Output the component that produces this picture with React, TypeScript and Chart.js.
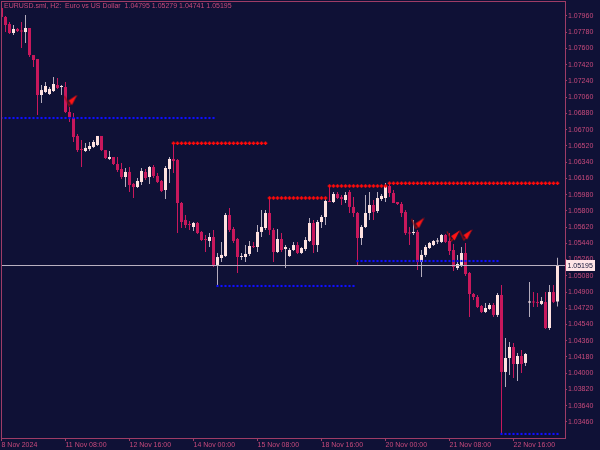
import React, { useEffect, useRef } from "react";
import { Chart, registerables } from "chart.js";

Chart.register(...registerables);

// ---- data (EURUSD H2) ----
const opens = [
  1.08048, 1.07949, 1.07871, 1.07771, 1.07816, 1.07793, 1.07782, 1.07827, 1.07527, 1.07483,
  1.07084, 1.07117, 1.07095, 1.07128, 1.07195, 1.07173, 1.07173, 1.06896, 1.06829, 1.0663,
  1.0648, 1.06463, 1.06485, 1.06508, 1.0653, 1.0663, 1.06474, 1.06375, 1.06397, 1.06319,
  1.06264, 1.06175, 1.06231, 1.06098, 1.06064, 1.0612, 1.06231, 1.06175, 1.06286, 1.06186,
  1.06131, 1.06031, 1.06264, 1.06375, 1.06364, 1.05887, 1.05699, 1.0565, 1.05621, 1.05665,
  1.05566, 1.05482, 1.05466, 1.0551, 1.052, 1.05277, 1.05299, 1.05754, 1.05599, 1.05488,
  1.05288, 1.05288, 1.05322, 1.0541, 1.05399, 1.05566, 1.0561, 1.05776, 1.05588, 1.05344,
  1.05488, 1.05377, 1.05299, 1.05366, 1.05421, 1.05333, 1.05377, 1.05466, 1.05665, 1.05421,
  1.05676, 1.05732, 1.05909, 1.05898, 1.05987, 1.05953, 1.0592, 1.06009, 1.05843, 1.05776,
  1.05499, 1.05621, 1.05776, 1.05865, 1.05798, 1.05931, 1.05942, 1.06075, 1.05998, 1.05898,
  1.05876, 1.05787, 1.05554, 1.05554, 1.05566, 1.05233, 1.05311, 1.05388, 1.05421, 1.0546,
  1.05455, 1.05532, 1.05466, 1.05366, 1.05166, 1.052, 1.05333, 1.05111, 1.04878, 1.04845,
  1.04745, 1.04679, 1.04712, 1.04756, 1.04646, 1.04867, 1.04014, 1.04169, 1.04291, 1.04102,
  1.04191, 1.04114, 1.04784, 1.0479, 1.04784, 1.04768, 1.0479, 1.04501, 1.049, 1.04795,
];
const highs = [
  1.0807, 1.0796, 1.07893, 1.0786, 1.07827, 1.07893, 1.07971, 1.07827, 1.07527, 1.07483,
  1.07195, 1.07228, 1.07173, 1.07284, 1.07272, 1.07195, 1.07228, 1.06951, 1.06885, 1.06652,
  1.06585, 1.06552, 1.06563, 1.06585, 1.0663, 1.0663, 1.06474, 1.06463, 1.06397, 1.06397,
  1.0633, 1.06275, 1.06286, 1.06109, 1.06164, 1.06275, 1.06264, 1.06297, 1.06308, 1.06219,
  1.06142, 1.06297, 1.06397, 1.06552, 1.06375, 1.05898, 1.05754, 1.05687, 1.05676, 1.05676,
  1.05577, 1.05532, 1.05554, 1.05588, 1.05333, 1.05455, 1.05776, 1.05832, 1.05621, 1.05499,
  1.05333, 1.05421, 1.05466, 1.05455, 1.05643, 1.05809, 1.05809, 1.05942, 1.0561, 1.05599,
  1.05554, 1.05421, 1.05388, 1.05455, 1.05455, 1.05399, 1.0551, 1.05721, 1.05699, 1.05699,
  1.05754, 1.05942, 1.06064, 1.06009, 1.06009, 1.05976, 1.06009, 1.06031, 1.05953, 1.05787,
  1.05643, 1.05976, 1.06009, 1.0592, 1.06009, 1.05987, 1.06109, 1.06109, 1.06031, 1.05898,
  1.05898, 1.05809, 1.05621, 1.05699, 1.05588, 1.05366, 1.05421, 1.05455, 1.05477, 1.05499,
  1.05543, 1.05543, 1.05554, 1.05433, 1.05311, 1.05399, 1.05444, 1.05122, 1.04889, 1.04867,
  1.04756, 1.04779, 1.04779, 1.04779, 1.04889, 1.04978, 1.04391, 1.04346, 1.04335, 1.04224,
  1.04258, 1.04224, 1.05011, 1.049, 1.04889, 1.04845, 1.049, 1.04978, 1.04978, 1.05279,
];
const lows = [
  1.07937, 1.07782, 1.0776, 1.07749, 1.07782, 1.07605, 1.0766, 1.07505, 1.07394, 1.06862,
  1.06995, 1.07106, 1.07084, 1.07117, 1.07151, 1.07084, 1.06885, 1.06785, 1.06563, 1.06452,
  1.06286, 1.06452, 1.06463, 1.06497, 1.06519, 1.06463, 1.06375, 1.06364, 1.06308, 1.06231,
  1.06153, 1.06064, 1.06009, 1.05942, 1.06053, 1.06086, 1.06142, 1.06098, 1.06164, 1.06109,
  1.06009, 1.05931, 1.06109, 1.06219, 1.05554, 1.0561, 1.0561, 1.05588, 1.05577, 1.05543,
  1.05466, 1.05344, 1.05399, 1.05178, 1.04978, 1.05233, 1.05288, 1.05566, 1.05444, 1.05111,
  1.05255, 1.05233, 1.05299, 1.05388, 1.05344, 1.0551, 1.05588, 1.05532, 1.05233, 1.05333,
  1.05344, 1.05166, 1.05288, 1.05355, 1.05322, 1.05322, 1.05355, 1.05455, 1.05333, 1.05344,
  1.0561, 1.05643, 1.05898, 1.05887, 1.05931, 1.05865, 1.05887, 1.05776, 1.05732, 1.052,
  1.05421, 1.0561, 1.05699, 1.05699, 1.05776, 1.05909, 1.05898, 1.05953, 1.05887, 1.05865,
  1.05732, 1.05532, 1.05421, 1.05532, 1.05144, 1.05067, 1.05288, 1.05377, 1.0541, 1.05433,
  1.05444, 1.05444, 1.05311, 1.05133, 1.05144, 1.05178, 1.05078, 1.04623, 1.04812, 1.04723,
  1.04668, 1.04668, 1.04701, 1.04623, 1.04623, 1.03338, 1.03847, 1.0398, 1.03947, 1.03914,
  1.04003, 1.0408, 1.04623, 1.04734, 1.04734, 1.04756, 1.0449, 1.04479, 1.04779, 1.04741,
];
const closes = [
  1.07949, 1.0786, 1.07771, 1.07816, 1.07793, 1.07788, 1.07827, 1.07527, 1.07472, 1.07084,
  1.07139, 1.07184, 1.07151, 1.07206, 1.07162, 1.07184, 1.06896, 1.0684, 1.06618, 1.06474,
  1.06474, 1.06497, 1.06519, 1.06563, 1.0663, 1.06474, 1.06386, 1.06397, 1.06319, 1.06253,
  1.06175, 1.06231, 1.06086, 1.06064, 1.06131, 1.06242, 1.06164, 1.06286, 1.06186, 1.0612,
  1.0602, 1.06275, 1.06375, 1.06352, 1.05887, 1.05676, 1.05643, 1.05643, 1.05665, 1.05554,
  1.05477, 1.05477, 1.0551, 1.052, 1.05288, 1.05311, 1.05754, 1.05588, 1.05466, 1.05288,
  1.05299, 1.05322, 1.0541, 1.05399, 1.05566, 1.05621, 1.05776, 1.05588, 1.05344, 1.05488,
  1.05366, 1.05399, 1.05366, 1.05421, 1.05333, 1.05388, 1.05477, 1.05665, 1.05421, 1.05676,
  1.05732, 1.05909, 1.05898, 1.05987, 1.05942, 1.05931, 1.05976, 1.05843, 1.05776, 1.05499,
  1.05621, 1.05776, 1.05865, 1.05787, 1.05942, 1.05965, 1.06075, 1.05998, 1.05887, 1.05876,
  1.05776, 1.05554, 1.05549, 1.05566, 1.05233, 1.05311, 1.05399, 1.05444, 1.05466, 1.05466,
  1.05532, 1.05455, 1.05355, 1.05178, 1.05211, 1.05333, 1.051, 1.04878, 1.04845, 1.04734,
  1.04679, 1.04723, 1.04756, 1.04646, 1.04867, 1.04014, 1.04169, 1.04291, 1.04102, 1.04191,
  1.04102, 1.04213, 1.0479, 1.04784, 1.04779, 1.04801, 1.04501, 1.049, 1.0479, 1.05195,
];

const xTickBars = [0, 16, 32, 48, 64, 80, 96, 112, 128];
const xTickLabels = [
  "8 Nov 2024", "11 Nov 08:00", "12 Nov 16:00", "14 Nov 00:00", "15 Nov 08:00",
  "18 Nov 16:00", "20 Nov 00:00", "21 Nov 08:00", "22 Nov 16:00",
];
const yTickLabels = [
  "1.07960", "1.07780", "1.07600", "1.07420", "1.07240", "1.07060", "1.06880", "1.06700",
  "1.06520", "1.06340", "1.06160", "1.05980", "1.05800", "1.05620", "1.05440", "1.05260",
  "1.05080", "1.04900", "1.04720", "1.04540", "1.04360", "1.04180", "1.04000", "1.03820",
  "1.03640", "1.03460",
];

// support / resistance dotted levels
const levelPrices = [1.06829, 1.06549, 1.04967, 1.05942, 1.06075, 1.06105, 1.05244, 1.03327];
const levelFrom = [0, 43, 54, 67, 82, 97, 89, 125];
const levelTo = [53, 66, 88, 81, 96, 139, 124, 139];
const levelKind = ["support", "resistance", "support", "resistance", "resistance", "resistance", "support", "support"];

// signal arrows
const arrowBars = [17.25, 104, 112.9, 116];
const arrowPrices = [1.07023, 1.0566, 1.05521, 1.05532];

const titleText = "EURUSD.sml, H2:  Euro vs US Dollar  1.04795 1.05279 1.04741 1.05195";
const lastPrice = 1.05195;
const lastPriceLabel = "1.05195";

// ---- style ----
const BG = "#0f1136";
const FRAME = "#9e3c66";
const TEXT = "#c84a7c";
const BEAR = "#c8185c";
const BULL = "#ffe2e0";
const BULL_WICK = "#b4acbc";
const PRICE_LINE = "#b8b0c0";
const FONT = "Liberation Sans";

function makeArrow(): HTMLCanvasElement {
  const c = document.createElement("canvas");
  c.width = 14;
  c.height = 12;
  const g = c.getContext("2d")!;
  g.strokeStyle = "#a00c0c";
  g.lineWidth = 1.2;
  g.beginPath();
  g.moveTo(1, 1.5);
  g.lineTo(5.5, 11);
  g.lineTo(13, 1);
  g.stroke();
  g.fillStyle = "#ff1414";
  g.beginPath();
  g.moveTo(13.5, 0.5);
  g.lineTo(5, 6);
  g.lineTo(8.5, 10.5);
  g.closePath();
  g.fill();
  return c;
}

const zeroPad = (scale: any) => {
  scale.paddingLeft = 0;
  scale.paddingRight = 0;
  scale.paddingTop = 0;
  scale.paddingBottom = 0;
};

const overlayPlugin = {
  id: "mtOverlay",
  afterDatasetsDraw(chart: any) {
    const { ctx, chartArea, scales } = chart;
    const { left, right } = chartArea;
    const py = Math.round(scales.y.getPixelForValue(lastPrice)) + 0.5;
    ctx.save();
    ctx.strokeStyle = PRICE_LINE;
    ctx.lineWidth = 1;
    ctx.beginPath();
    ctx.moveTo(left, py);
    ctx.lineTo(right, py);
    ctx.stroke();
    ctx.restore();
  },
  afterDraw(chart: any) {
    const { ctx, chartArea, scales } = chart;
    const { left, right, top, bottom } = chartArea;
    ctx.save();
    // frame
    ctx.strokeStyle = FRAME;
    ctx.lineWidth = 1;
    ctx.strokeRect(left + 0.5, top + 0.5, right - left, bottom - top);
    // title
    ctx.fillStyle = TEXT;
    ctx.font = `7px "${FONT}"`;
    ctx.textBaseline = "top";
    ctx.textAlign = "left";
    ctx.fillText(titleText, left + 3, top + 2);
    // last price label
    const py = Math.round(scales.y.getPixelForValue(lastPrice)) + 0.5;
    ctx.fillStyle = "#ffe4e6";
    ctx.fillRect(right + 1, py - 5.5, 29, 11);
    ctx.fillStyle = "#101236";
    ctx.textBaseline = "middle";
    ctx.fillText(lastPriceLabel, right + 2.5, py + 0.5);
    ctx.restore();
  },
};

export default function App() {
  const ref = useRef<HTMLCanvasElement>(null);

  useEffect(() => {
    const canvas = ref.current!;
    const idx = opens.map((_, i) => i);
    const bull = idx.map((i) => closes[i] >= opens[i]);

    const levelSets = levelPrices.map((p, li) => {
      const pts: { x: number; y: number }[] = [];
      for (let k = levelFrom[li]; k <= levelTo[li]; k++) pts.push({ x: k, y: p });
      const res = levelKind[li] === "resistance";
      return {
        type: "line" as const,
        data: pts,
        showLine: false,
        pointStyle: res ? "cross" : "rect",
        pointRadius: res ? 1.8 : 1.5,
        pointBorderWidth: res ? 1.6 : 0,
        pointBorderColor: res ? "#ff0a0a" : "#0f0fff",
        pointBackgroundColor: res ? "#ff0a0a" : "#0f0fff",
        order: 1,
      };
    });

    const arrowImg = makeArrow();

    const chart = new Chart(canvas, {
      type: "bar",
      data: {
        datasets: [
          {
            type: "line",
            data: arrowBars.map((x, i) => ({ x, y: arrowPrices[i] })),
            showLine: false,
            pointStyle: arrowImg as any,
            pointRadius: 6,
            order: 0,
          } as any,
          ...(levelSets as any[]),
          {
            type: "bar",
            data: idx.map((i) => ({ x: i, y: [opens[i], closes[i]] })),
            backgroundColor: bull.map((b) => (b ? BULL : BEAR)),
            barThickness: 3,
            minBarLength: 1,
            grouped: false,
            inflateAmount: 0,
            borderWidth: 0,
            order: 2,
          } as any,
          {
            type: "bar",
            data: idx.map((i) => ({ x: i, y: [lows[i], highs[i]] })),
            backgroundColor: bull.map((b) => (b ? BULL_WICK : BEAR)),
            barThickness: 1,
            grouped: false,
            inflateAmount: 0,
            borderWidth: 0,
            order: 3,
          } as any,
        ],
      },
      options: {
        animation: false,
        responsive: true,
        maintainAspectRatio: false,
        events: [],
        layout: { autoPadding: false, padding: { left: 1, top: 1, right: 0, bottom: 0 } },
        plugins: { legend: { display: false }, tooltip: { enabled: false } },
        scales: {
          x: {
            type: "linear",
            min: -0.125,
            max: 140.875,
            offset: false,
            grid: { display: true, drawOnChartArea: false, drawTicks: true, tickLength: 3, color: FRAME, offset: false },
            border: { display: false },
            afterBuildTicks: (scale: any) => {
              scale.ticks = xTickBars.map((v) => ({ value: v }));
            },
            afterFit: (scale: any) => {
              scale.height = 12;
              zeroPad(scale);
            },
            ticks: {
              autoSkip: false,
              maxRotation: 0,
              minRotation: 0,
              align: "start",
              padding: 0,
              color: TEXT,
              font: { family: FONT, size: 7 },
              callback: (v: any) => {
                const i = xTickBars.indexOf(Number(v));
                return i >= 0 ? xTickLabels[i] : "";
              },
            },
          },
          y: {
            type: "linear",
            position: "right",
            min: 1.03282,
            max: 1.08126,
            grid: { display: true, drawOnChartArea: false, drawTicks: true, tickLength: 2, color: FRAME },
            border: { display: false },
            afterBuildTicks: (scale: any) => {
              scale.ticks = yTickLabels.map((s) => ({ value: parseFloat(s) }));
            },
            afterFit: (scale: any) => {
              scale.width = 35;
              zeroPad(scale);
            },
            ticks: {
              autoSkip: false,
              padding: 1,
              color: TEXT,
              font: { family: FONT, size: 7 },
              callback: (v: any) => Number(v).toFixed(5),
            },
          },
        },
      } as any,
      plugins: [overlayPlugin],
    });

    return () => chart.destroy();
  }, []);

  return (
    <div style={{ position: "fixed", left: 0, top: 0, width: 600, height: 450, background: BG }}>
      <canvas ref={ref} />
    </div>
  );
}
